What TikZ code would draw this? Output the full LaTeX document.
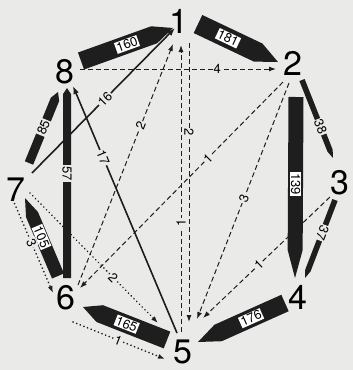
\documentclass[tikz,border=0pt]{standalone}
\usepackage{fontspec}
\setmainfont{TeX Gyre Heros}
\definecolor{Paper}{RGB}{234,234,232}
\definecolor{Ink}{RGB}{30,30,30}
\usetikzlibrary{arrows.meta, calc}

\newcommand{\flowband}[6]{%
  \coordinate (bA) at #1;
  \coordinate (bB) at #2;
  \coordinate (bT) at ($(bB)!#4!(bA)$);
  \fill[Ink] ($(bA)!#3!90:(bB)$) -- ($(bT)!#3!-90:(bA)$) -- (bB) -- ($(bT)!#3!90:(bA)$) -- ($(bA)!#3!-90:(bB)$) -- cycle;
  \path (bA) -- (bB) node[#6] {#5};
}

\begin{document}
\begin{tikzpicture}[x=1pt, y=-1pt,
    station/.style={font=\fontsize{34}{34}\selectfont, inner sep=0pt},
    bandlabel/.style={fill=white, inner sep=1pt, font=\fontsize{13}{13}\selectfont},
    flowlabel/.style={fill=Paper, inner sep=1pt, font=\fontsize{13}{13}\selectfont, sloped},
    thinflow/.style={draw=Ink, line width=1.6pt, -{Latex[length=8pt,width=6pt]}},
    dashflow/.style={draw=Ink, line width=1pt, dash pattern=on 5pt off 3pt, -{Latex[length=7pt,width=5pt]}},
    dotflow/.style={draw=Ink, line width=1.8pt, line cap=round, dash pattern=on 0.1pt off 3.8pt, -{Latex[length=7pt,width=5pt]}}]
    \fill[Paper] (0,0) rectangle (353,370);
    \useasboundingbox (0,0) rectangle (353,370);

    \node[station] (n1) at (179,21) {1};
    \node[station] (n2) at (293,63) {2};
    \node[station] (n3) at (340,183) {3};
    \node[station] (n4) at (298,297) {4};
    \node[station] (n5) at (183,352) {5};
    \node[station] (n6) at (66,298) {6};
    \node[station] (n7) at (16,190) {7};
    \node[station] (n8) at (65,72) {8};

    \flowband{([shift={(16,-11)}]n8.center)}{([shift={(-6,7)}]n1.center)}{9pt}{20pt}{160}{bandlabel, sloped, pos=.5}
    \flowband{([shift={(19,3)}]n1.center)}{([shift={(-15,-1)}]n2.center)}{10pt}{22pt}{181}{bandlabel, sloped, pos=.375}
    \flowband{([shift={(3,34)}]n2.center)}{([shift={(-3,-19)}]n4.center)}{7.5pt}{28pt}{139}{bandlabel, rotate=-90, pos=.48}
    \flowband{([shift={(-13,6)}]n4.center)}{([shift={(15,-10)}]n5.center)}{9pt}{22pt}{176}{bandlabel, sloped, pos=.39}
    \flowband{([shift={(-16,-12)}]n5.center)}{([shift={(17,9)}]n6.center)}{9pt}{18pt}{165}{bandlabel, sloped, pos=.48}
    \flowband{([shift={(-8,-22)}]n6.center)}{([shift={(9,8)}]n7.center)}{6.5pt}{18pt}{105}{bandlabel, sloped, pos=.5}
    \flowband{([shift={(13,-27)}]n7.center)}{([shift={(-7,20)}]n8.center)}{4.5pt}{8pt}{85}{flowlabel, pos=.5}
    \flowband{([shift={(1,-20)}]n6.center)}{([shift={(2,16)}]n8.center)}{4pt}{6pt}{57}{flowlabel, sloped=false, rotate=-90, pos=.55}
    \flowband{([shift={(9,17)}]n2.center)}{([shift={(-7,-25)}]n3.center)}{2.8pt}{8pt}{38}{flowlabel, pos=.6}
    \flowband{([shift={(-5,17)}]n3.center)}{([shift={(7,-19)}]n4.center)}{2.8pt}{8pt}{37}{flowlabel, allow upside down, pos=.42}

    \draw[thinflow] ([shift={(16,-17)}]n7.center) -- node[flowlabel, pos=.51] {16} ([shift={(-4,7)}]n1.center);
    \draw[thinflow] ([shift={(-6,-19)}]n5.center) -- node[flowlabel, pos=.71] {17} ([shift={(8,14)}]n8.center);

    \draw[dashflow] ([shift={(15,-3)}]n8.center) -- node[flowlabel, pos=.7] {4} ([shift={(-17,6)}]n2.center);
    \draw[dashflow] ([shift={(-2,-20)}]n5.center) -- node[flowlabel, pos=.38] {1} ([shift={(2,24)}]n1.center);
    \draw[dashflow] ([shift={(10,22)}]n1.center) -- node[flowlabel, pos=.32] {2} ([shift={(6,-30)}]n5.center);
    \draw[dashflow] ([shift={(12,-13)}]n6.center) -- node[flowlabel, pos=.66] {2} ([shift={(-6,23)}]n1.center);
    \draw[dashflow] ([shift={(-10,19)}]n2.center) -- node[flowlabel, pos=.37] {1} ([shift={(14,-10)}]n6.center);
    \draw[dashflow] ([shift={(-4,20)}]n2.center) -- node[flowlabel, pos=.49] {3} ([shift={(14,-33)}]n5.center);
    \draw[dashflow] ([shift={(-10,14)}]n3.center) -- node[flowlabel, pos=.56] {1} ([shift={(20,-34)}]n5.center);

    \draw[dotflow] ([shift={(-3,10)}]n7.center) -- node[flowlabel, pos=.46] {3} ([shift={(-13,-5)}]n6.center);
    \draw[dotflow] ([shift={(14,3)}]n7.center) -- node[flowlabel, pos=.65] {2} ([shift={(-25,-29)}]n5.center);
    \draw[dotflow] ([shift={(7,24)}]n6.center) -- node[flowlabel, pos=.49] {1} ([shift={(-18,7)}]n5.center);
\end{tikzpicture}
\end{document}
